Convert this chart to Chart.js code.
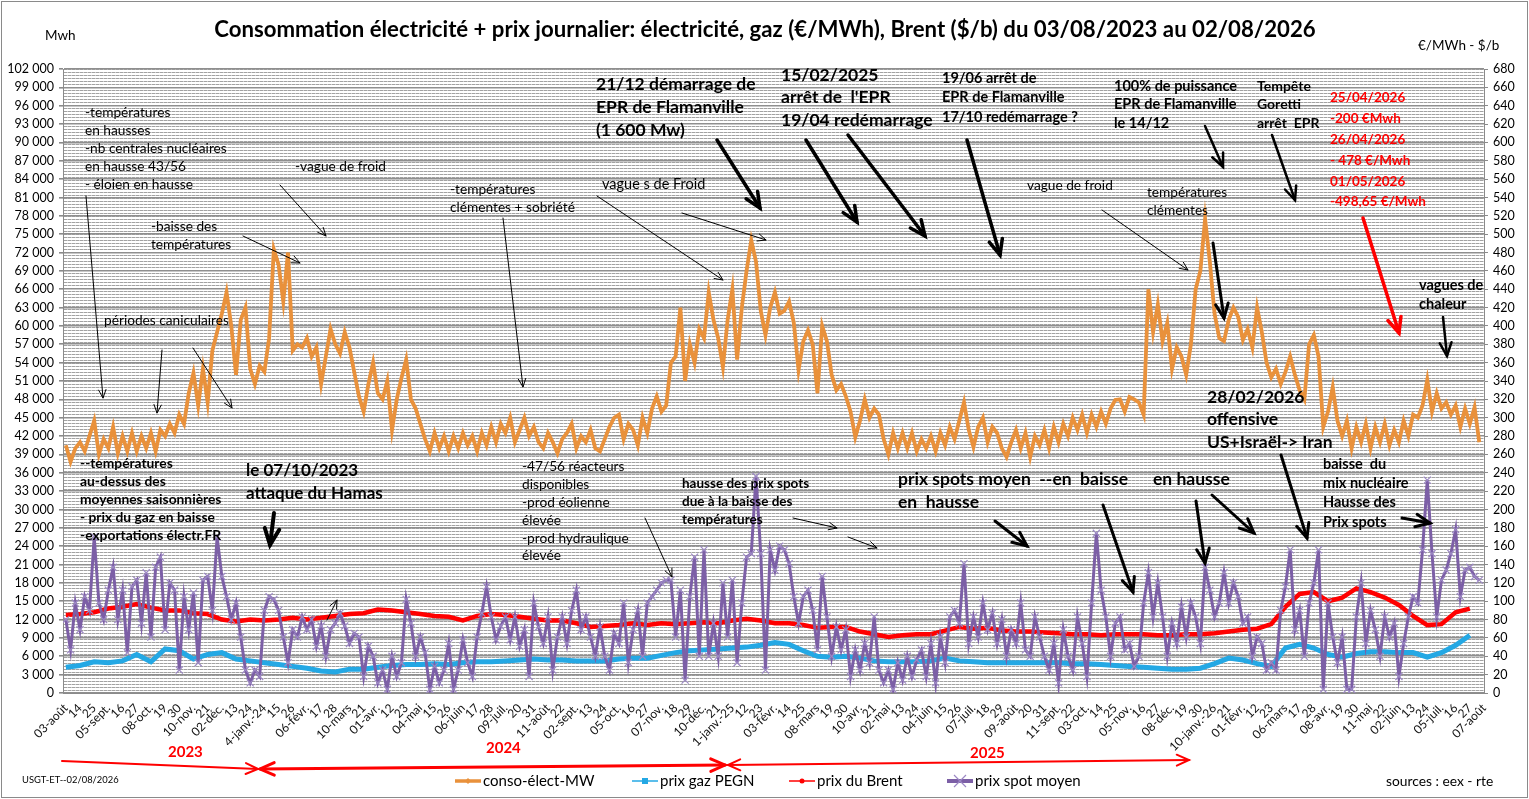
<!DOCTYPE html>
<html><head><meta charset="utf-8">
<script src="https://cdn.jsdelivr.net/npm/chart.js@4.4.1/dist/chart.umd.min.js"></script>
<style>html,body{margin:0;padding:0;background:#fff;overflow:hidden}canvas{display:block}</style>
</head><body>
<canvas id="c" width="1529" height="799"></canvas>
<script>
// ---------- DATA ----------
const tickLabels = ['03-août','14','25','05-sept.','16','27','08-oct.','19','30','10-nov.','21','02-déc.','13','24','4-janv.-24','15','26','06-févr.','17','28','10-mars','21','01-avr.','12','23','04-mai','15','26','06-juin','17','28','09-juil.','20','31','11-août','22','02-sept.','13','24','05-oct.','16','27','07-nov.','18','29','10-déc.','21','1-janv.-25','12','23','03-févr.','14','25','08-mars','19','30','10-avr.','21','02-mai','13','24','04-juin','15','26','07-juil.','18','29','09-août','20','31','11-sept.','22','03-oct.','14','25','05-nov.','16','27','08-déc.','19','30','10-janv.-26','21','01-févr.','12','23','06-mars','17','28','08-avr.','19','30','11-mai','22','02-juin','13','24','05-juil.','16','27','07-août'];

// 3 readings per tick interval (conso & spot)
const SUB = 3;
const consoMW = [
40500,37800,40000,41000,39500,42000,44500,39000,41500,40000,
43500,39200,42000,39500,42500,39500,42000,40000,42500,39500,
43000,42000,44000,42500,45500,44000,49000,52300,47000,53000,
47500,56000,59000,62000,65500,60000,52000,61000,63000,53000,
50500,53500,52500,58000,72500,70000,64000,72000,56000,57000,
56500,58000,55000,56500,50500,55000,59500,57000,55500,59000,
56500,52500,48500,46000,50500,54000,49000,48000,51000,43000,
48000,51500,54500,48000,46500,44000,41500,39500,42500,40000,
42000,39500,42000,40000,42500,40500,42000,39500,42500,40500,
43500,41000,44000,42500,45000,41000,43000,45000,42000,43500,
41000,40000,42500,41000,39200,41500,42500,44000,40000,42000,
41000,43000,40000,39500,41500,43500,45000,45500,41500,44000,
43000,40500,45000,42500,46500,48500,46000,47000,54000,55000,
63000,51000,57000,54000,59500,58000,65500,61000,58000,53300,
61000,66000,54500,63000,69000,74000,70500,62500,58500,63000,
65500,62000,62500,64000,60500,52800,57500,59300,57000,49000,
60000,57500,52000,49500,50500,48500,46000,41800,44500,48000,
45000,46500,45500,41500,39000,42500,40000,42500,40000,42500,
39500,41500,40000,42000,39500,42500,40500,43500,41500,44500,
47500,43000,40200,43500,45000,41000,43500,42500,40000,38600,
41000,43000,40000,42500,38600,42000,40500,43000,40000,43500,
41000,44000,42000,45000,43000,45500,42500,45500,43500,46000,
44000,46500,47900,48000,46000,48400,48000,47500,45500,66000,
59000,63500,57500,60500,53000,56500,55000,52000,57000,66000,
69000,77500,70500,62000,58000,57500,61000,63000,61500,57700,
59500,56500,63000,59000,54000,51600,53000,50500,52500,55000,
52000,49500,48000,57000,58500,55000,43500,46000,50000,44500,
42000,44500,40000,43500,41000,44000,40000,43500,41000,44000,
40500,43000,41000,44500,42000,45500,45000,47000,51200,46000,
49000,46500,47500,45500,47000,43500,46500,44000,46700,41000,
null];

const spotPrice = [
80,47,98,69,105,90,170,98,80,112,
137,80,112,44,116,123,76,131,61,137,
148,69,120,112,25,105,69,109,33,123,
127,90,170,127,105,80,98,61,25,11,
25,18,90,105,102,90,61,33,69,61,
83,69,80,51,73,40,69,76,87,73,
54,65,61,18,51,40,11,25,4,40,
18,33,102,76,40,61,44,4,29,11,
25,54,4,25,58,33,18,61,87,116,
83,58,73,83,58,83,51,69,18,98,
72,54,83,25,61,83,54,90,112,69,
83,61,40,72,40,25,65,54,98,33,
69,90,40,98,105,112,120,123,123,61,
112,14,105,148,40,156,40,76,40,120,
61,123,33,98,148,152,236,152,25,156,
134,160,156,141,105,76,105,112,90,47,
127,83,40,72,47,69,18,47,25,54,
33,83,25,11,25,4,33,14,40,18,
36,47,18,54,11,61,33,83,90,76,
141,54,83,61,98,69,87,54,80,40,
69,54,98,47,40,83,61,40,25,54,
11,69,40,25,83,54,18,98,174,112,
83,40,76,83,47,54,29,40,98,131,
83,120,83,40,76,54,94,61,98,83,
54,137,112,83,98,131,98,120,105,76,
83,40,61,54,25,33,25,90,116,156,
69,90,40,98,120,156,4,98,61,33,
61,4,4,83,120,54,90,69,40,83,
61,76,18,54,83,105,98,156,232,152,
83,123,134,152,178,105,134,137,127,123,
null];

// one reading per tick (gas & Brent)
const gasPEGN = [
28,30,34,33,35,42,34,48,46,37,
42,44,37,35,33,31,29,27,24,23,
26,26,28,30,31,31,32,31,33,34,
34,35,36,37,36,36,35,35,35,37,
38,38,41,44,46,47,48,49,50,52,
55,53,46,40,39,40,38,35,34,34,
34,35,38,35,34,33,33,33,33,33,
33,32,32,31,30,29,28,27,26,26,
27,32,38,36,32,29,49,53,49,42,
39,43,45,45,44,44,39,44,52,63,
null];

const brentPrice = [
85,86,88,92,94,97,93,90,90,87,
86,80,78,80,79,80,82,80,82,84,
86,87,91,90,88,86,84,83,79,84,
86,85,83,81,79,79,76,72,73,74,
76,74,76,75,76,77,76,79,81,79,
76,76,74,71,72,72,67,64,61,63,
64,64,68,72,70,71,68,67,67,66,
65,64,64,63,64,64,64,63,63,64,
64,65,67,69,70,75,94,108,110,100,
104,114,110,104,96,84,74,75,88,92,
null];

const seriesNames = ['conso-élect-MW','prix gaz PEGN','prix du Brent','prix spot moyen'];

// ---------- ANNOTATIONS (page layout, not data) ----------
const F = 'Lato';
const N = '13.7px '+F;
const notes = [
 {x:85,y:113,lh:18,f:N,lines:['-températures','en hausses','-nb centrales nucléaires','en hausse 43/56','- éloien en hausse']},
 {x:295,y:167,f:N,lines:['-vague de froid']},
 {x:151,y:227,lh:18,f:N,lines:['-baisse des','températures']},
 {x:104,y:321,f:N,lines:['périodes caniculaires']},
 {x:450,y:190,lh:18,f:N,lines:['-températures','clémentes + sobriété']},
 {x:80,y:464,lh:17.8,f:'bold 13.8px '+F,lines:['--températures','au-dessus des','moyennes saisonnières','- prix du gaz en baisse','-exportations électr.FR']},
 {x:246,y:471,lh:23,f:'bold 17px '+F,lines:['le 07/10/2023','attaque du Hamas']},
 {x:522,y:467,lh:17.8,f:N,lines:['-47/56 réacteurs','disponibles','-prod éolienne','élevée','-prod hydraulique','élevée']},
 {x:682,y:484,lh:18,f:'bold 13.5px '+F,lines:['hausse des prix spots','due à la baisse des','températures']},
 {x:602,y:184,f:'14.5px '+F,lines:['vague s de Froid']},
 {x:596,y:84,lh:23,f:'bold 17.5px '+F,lines:['21/12 démarrage de','EPR de Flamanville','(1 600 Mw)']},
 {x:781,y:75,lh:22.5,f:'bold 17.5px '+F,lines:['15/02/2025','arrêt de  l\'EPR','19/04 redémarrage']},
 {x:942,y:78,lh:19.5,f:'bold 14.5px '+F,lines:['19/06 arrêt de','EPR de Flamanville','17/10 redémarrage ?']},
 {x:1114,y:86,lh:18.8,f:'bold 14.5px '+F,lines:['100% de puissance','EPR de Flamanville','le 14/12']},
 {x:1257,y:86,lh:18.8,f:'bold 14px '+F,lines:['Tempête','Goretti','arrêt  EPR']},
 {x:1330,y:98,lh:20.8,c:'#ff0000',f:'bold 13.5px '+F,lines:['25/04/2026','-200 €Mwh','26/04/2026','- 478 €/Mwh','01/05/2026','-498,65 €/Mwh']},
 {x:1027,y:186,f:N,lines:['vague de froid']},
 {x:1147,y:193,lh:18,f:N,lines:['températures','clémentes']},
 {x:1419,y:285,lh:19,f:'bold 14.5px '+F,lines:['vagues de','chaleur']},
 {x:898,y:479,lh:23,f:'bold 17.5px '+F,lines:['prix spots moyen  --en  baisse','en  hausse']},
 {x:1153,y:479,f:'bold 17.5px '+F,lines:['en hausse']},
 {x:1207,y:397,lh:22.5,f:'bold 17.5px '+F,lines:['28/02/2026','offensive','US+Israël-> Iran']},
 {x:1323,y:464,lh:19.3,f:'bold 14.5px '+F,lines:['baisse  du','mix nucléaire','Hausse des','Prix spots']},
 {x:168,y:752,c:'#ff0000',f:'bold 15px '+F,lines:['2023']},
 {x:486,y:748,c:'#ff0000',f:'bold 15px '+F,lines:['2024']},
 {x:970,y:753,c:'#ff0000',f:'bold 15px '+F,lines:['2025']},
 {x:22,y:780,f:'9.4px '+F,lines:['USGT-ET--02/08/2026']},
 {x:1386,y:782,f:'13.8px '+F,lines:['sources : eex - rte']},
 {x:45,y:36,f:'13.5px '+F,lines:['Mwh']},
 {x:1418,y:46,f:'13.5px '+F,lines:['€/MWh - $/b']}
];
const arrows = [
 {x1:86,y1:196,x2:103,y2:398},
 {x1:280,y1:185,x2:326,y2:236},
 {x1:243,y1:236,x2:300,y2:263},
 {x1:162,y1:350,x2:157,y2:413},
 {x1:193,y1:348,x2:232,y2:408},
 {x1:503,y1:218,x2:523,y2:387},
 {x1:327,y1:620,x2:337,y2:600},
 {x1:645,y1:518,x2:672,y2:577},
 {x1:793,y1:518,x2:837,y2:528},
 {x1:848,y1:537,x2:877,y2:548},
 {x1:597,y1:196,x2:723,y2:280},
 {x1:682,y1:213,x2:766,y2:240},
 {x1:1102,y1:210,x2:1188,y2:270},
 {x1:274,y1:513,x2:270,y2:545,w:4},
 {x1:717,y1:140,x2:760,y2:208,w:3.5},
 {x1:806,y1:140,x2:857,y2:222,w:3.5},
 {x1:848,y1:135,x2:925,y2:236,w:3.5},
 {x1:967,y1:140,x2:1000,y2:255,w:3.5},
 {x1:1205,y1:126,x2:1223,y2:167,w:2.5},
 {x1:1272,y1:135,x2:1295,y2:200,w:2.5},
 {x1:1363,y1:218,x2:1399,y2:333,w:3.5,c:'#ff0000'},
 {x1:1213,y1:243,x2:1224,y2:318,w:3},
 {x1:1443,y1:317,x2:1447,y2:356,w:2.5},
 {x1:995,y1:521,x2:1027,y2:546,w:3},
 {x1:1103,y1:505,x2:1133,y2:592,w:3},
 {x1:1196,y1:501,x2:1205,y2:563,w:3},
 {x1:1212,y1:495,x2:1254,y2:533,w:3},
 {x1:1281,y1:455,x2:1307,y2:538,w:3},
 {x1:1402,y1:518,x2:1430,y2:523,w:3},
 {x1:62,y1:761,x2:258,y2:769,w:2,c:'#ff0000'},
 {x1:260,y1:769,x2:725,y2:765,w:3,c:'#ff0000',both:true},
 {x1:728,y1:765,x2:1189,y2:760,w:2,c:'#ff0000',both:true}
];
// legend layout (line start x for each entry)
const legendX = [455, 632, 789, 947];
const titleText = 'Consommation électricité + prix journalier: électricité, gaz (€/MWh), Brent ($/b) du 03/08/2023 au 02/08/2026';

// ---------- helpers ----------
function head(ctx, xa, ya, xb, yb, w){
  const ang = Math.atan2(yb-ya, xb-xa);
  const L = w>1.5 ? 9+2.2*w : 9, sp = 0.42;
  ctx.beginPath();
  ctx.moveTo(xb - L*Math.cos(ang-sp), yb - L*Math.sin(ang-sp));
  ctx.lineTo(xb, yb);
  ctx.lineTo(xb - L*Math.cos(ang+sp), yb - L*Math.sin(ang+sp));
  ctx.stroke();
}
function drawArrow(ctx, a){
  const w = a.w || 1;
  ctx.save();
  ctx.strokeStyle = a.c || '#000';
  ctx.lineWidth = w; ctx.lineCap = 'round'; ctx.lineJoin = 'miter';
  ctx.beginPath(); ctx.moveTo(a.x1,a.y1); ctx.lineTo(a.x2,a.y2); ctx.stroke();
  head(ctx, a.x1,a.y1,a.x2,a.y2,w);
  if (a.both) head(ctx, a.x2,a.y2,a.x1,a.y1,w);
  ctx.restore();
}
const fmt = v => String(v).replace(/\B(?=(\d{3})+(?!\d))/g, ' ');

const bgPlugin = {
  id:'bg',
  beforeDraw(chart){
    const {ctx, chartArea:a} = chart;
    ctx.save();
    ctx.fillStyle = '#fff'; ctx.fillRect(0,0,chart.width,chart.height);
    const pc = document.createElement('canvas'); pc.width = 4; pc.height = 3;
    const p = pc.getContext('2d');
    p.fillStyle = '#fff'; p.fillRect(0,0,4,3);
    p.fillStyle = '#a2a2a2'; p.fillRect(0,0,3,1);
    p.fillStyle = '#cfcfcf'; p.fillRect(3,0,1,1);
    ctx.fillStyle = ctx.createPattern(pc,'repeat');
    ctx.fillRect(a.left, a.top, a.right-a.left, a.bottom-a.top);
    ctx.restore();
  }
};
function legendMarker(ctx, kind, x, y, color){
  ctx.save();
  ctx.fillStyle = color; ctx.strokeStyle = color;
  if (kind === 'square') ctx.fillRect(x-3, y-3, 6, 6);
  else if (kind === 'dot') { ctx.beginPath(); ctx.arc(x, y, 2.5, 0, Math.PI*2); ctx.fill(); }
  else if (kind === 'diamond') { ctx.beginPath(); ctx.moveTo(x,y-3); ctx.lineTo(x+3,y); ctx.lineTo(x,y+3); ctx.lineTo(x-3,y); ctx.closePath(); ctx.fill(); }
  else if (kind === 'x') { ctx.lineWidth = 1.2; ctx.beginPath(); ctx.moveTo(x-6,y-6); ctx.lineTo(x+6,y+6); ctx.moveTo(x+6,y-6); ctx.lineTo(x-6,y+6); ctx.stroke(); }
  ctx.restore();
}
const notePlugin = {
  id:'notes',
  afterDraw(chart){
    const ctx = chart.ctx;
    ctx.save();
    ctx.textBaseline = 'middle'; ctx.textAlign = 'left';
    notes.forEach(n => {
      ctx.font = n.f; ctx.fillStyle = n.c || '#000';
      n.lines.forEach((t,i) => ctx.fillText(t, n.x, n.y + i*(n.lh||18)));
    });
    arrows.forEach(a => drawArrow(ctx, a));
    // legend
    const kinds = ['diamond','square','dot','x'];
    const lw = [3.5, 1.5, 1.5, 4];
    const mcol = [null, null, null, '#9C88C4'];
    chart.data.datasets.forEach((ds, i) => {
      const x = legendX[i], y = 781;
      ctx.strokeStyle = ds.borderColor; ctx.lineWidth = lw[i]; ctx.lineCap = 'butt';
      ctx.beginPath(); ctx.moveTo(x, y); ctx.lineTo(x+26, y); ctx.stroke();
      legendMarker(ctx, kinds[i], x+13, y, mcol[i] || ds.borderColor);
      ctx.font = '15px '+F; ctx.fillStyle = '#000';
      ctx.fillText(ds.label, x+28, y);
    });
    ctx.font = 'bold 22.2px '+F; ctx.fillStyle = '#000'; ctx.textAlign = 'center';
    ctx.fillText(titleText, 765, 30);
    ctx.strokeStyle = '#8a8a8a'; ctx.lineWidth = 1;
    ctx.strokeRect(1.5,1.5,chart.width-3,chart.height-3);
    ctx.restore();
  }
};

Chart.defaults.font.family = F;
Chart.defaults.color = '#000';

const xy = (arr, step) => arr.map((y,i) => ({x: i*step, y}));

new Chart(document.getElementById('c'), {
  type:'line',
  data:{
    datasets:[
      {label:seriesNames[0], data:xy(consoMW,1/SUB), yAxisID:'yL', borderColor:'#E9913B', backgroundColor:'#E9913B', borderWidth:3.8, pointRadius:0, order:4},
      {label:seriesNames[1], data:xy(gasPEGN,1), yAxisID:'yR', borderColor:'#24A8E4', backgroundColor:'#24A8E4', borderWidth:5, pointRadius:0, order:3},
      {label:seriesNames[2], data:xy(brentPrice,1), yAxisID:'yR', borderColor:'#FF0000', backgroundColor:'#FF0000', borderWidth:4.5, pointRadius:0, order:2},
      {label:seriesNames[3], data:xy(spotPrice,1/SUB), yAxisID:'yR', borderColor:'#7C5FA6', backgroundColor:'#7C5FA6', borderWidth:3, pointStyle:'crossRot', pointRadius:5, pointBorderWidth:1.2, pointBorderColor:'#9C88C4', pointBackgroundColor:'#9C88C4', order:1}
    ]
  },
  options:{
    responsive:false, animation:false, devicePixelRatio:1, events:[],
    layout:{padding:{top:69,left:0,right:0,bottom:0}},
    elements:{line:{tension:0}},
    plugins:{
      tooltip:{enabled:false},
      title:{display:false},
      legend:{display:false}
    },
    scales:{
      x:{type:'linear', min:-0.2, max:100,
        ticks:{autoSkip:false, minRotation:45, maxRotation:45, padding:8, font:{size:12}, color:'#111',
          callback:(v)=>tickLabels[Math.round(v)] ?? ''},
        afterBuildTicks:(s)=>{ s.ticks = tickLabels.map((_, i) => ({value: i})); },
        grid:{display:false, drawTicks:false},
        border:{display:true, color:'#8a8a8a'},
        afterFit:(s)=>{s.height=106;}},
      yL:{position:'left', min:0, max:102000,
        ticks:{stepSize:3000, font:{size:12.5}, color:'#000', padding:5, callback:(v)=>fmt(v)},
        grid:{color:'#8f8f8f', lineWidth:1.6, tickLength:4, tickColor:'#8a8a8a'},
        border:{color:'#8a8a8a'},
        afterFit:(s)=>{s.width=63;}},
      yR:{position:'right', min:0, max:680,
        ticks:{stepSize:20, font:{size:12.5}, color:'#000', padding:5},
        grid:{drawOnChartArea:false, tickLength:4, tickColor:'#8a8a8a'},
        border:{color:'#8a8a8a'},
        afterFit:(s)=>{s.width=45;}}
    }
  },
  plugins:[bgPlugin, notePlugin]
});
</script>
</body></html>
